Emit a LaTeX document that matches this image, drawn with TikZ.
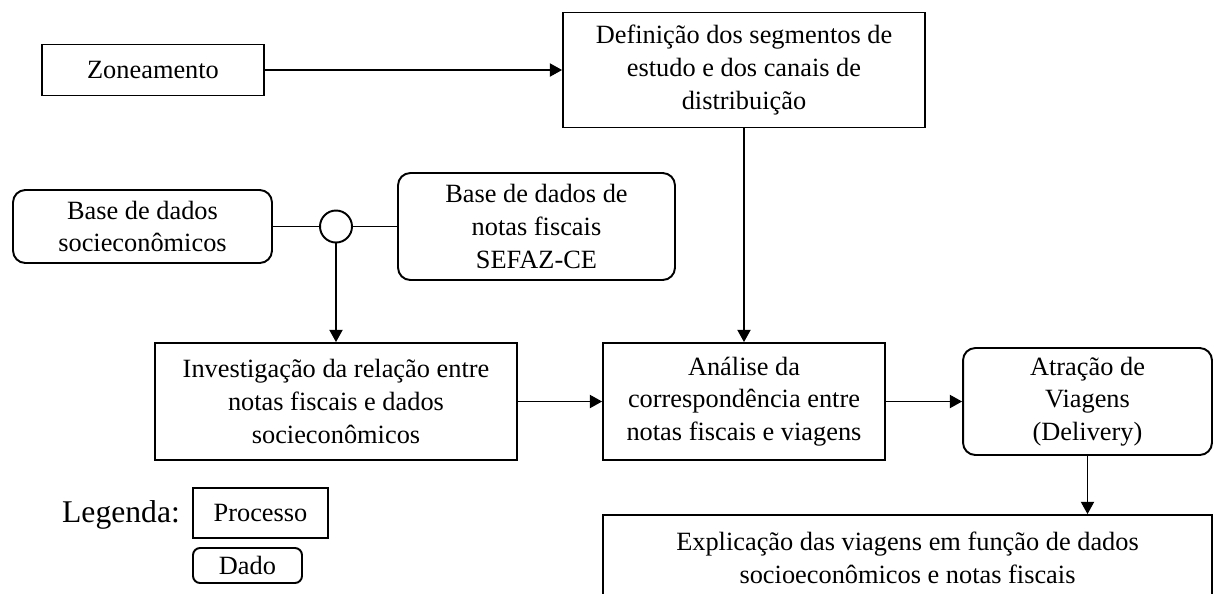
\documentclass[tikz,border=0pt]{standalone}
\usepackage{fontspec}
\setmainfont{Liberation Serif}
\usetikzlibrary{arrows.meta}
\begin{document}
\begin{tikzpicture}[x=0.02cm,y=-0.02cm,
  proc/.style={draw,line width=1.1pt,rectangle,align=center,inner sep=0pt,font=\fontsize{15}{18.6}\selectfont},
  dat/.style={proc,rounded corners=7pt},
  conn/.style={line width=0.6pt},
  arr/.style={conn,-{Triangle[length=7pt,width=7.6pt]}}]
\useasboundingbox (0,0) rectangle (1214,593);
\clip (0,0) rectangle (1214,593);
\node[proc,minimum width=4.44cm,minimum height=1.02cm] (zon) at (153,70) {Zoneamento};
\node[proc,minimum width=7.24cm,minimum height=2.3cm] (def) at (744,70) {Definição dos segmentos de\\estudo e dos canais de\\distribuição};
\node[dat,minimum width=5.18cm,minimum height=1.46cm] (soc) at (142.5,226.5) {Base de dados\\socieconômicos};
\node[dat,minimum width=5.54cm,minimum height=2.14cm] (sefaz) at (536.5,226.5) {Base de dados de\\notas fiscais\\SEFAZ-CE};
\node[draw,circle,line width=1.1pt,minimum size=0.64cm,inner sep=0pt] (circ) at (336,226.5) {};
\node[proc,minimum width=7.24cm,minimum height=2.34cm] (inv) at (336,401.5) {Investigação da relação entre\\notas fiscais e dados\\socieconômicos};
\node[proc,minimum width=5.64cm,minimum height=2.34cm] (ana) at (744,401.5) {Análise da\\correspondência entre\\notas fiscais e viagens};
\node[dat,minimum width=4.98cm,minimum height=2.14cm] (atr) at (1087.5,401.5) {Atração de\\Viagens\\(Delivery)};
\node[proc,minimum width=12.18cm,minimum height=1.7cm] (expl) at (907.5,557.5) {Explicação das viagens em função de dados\\socioeconômicos e notas fiscais};
\node[font=\fontsize{18}{22}\selectfont,inner sep=0pt] (leg) at (121,515) {Legenda:};
\node[proc,minimum width=2.7cm,minimum height=1.0cm] (lproc) at (260.5,513) {Processo};
\node[proc,rounded corners=4pt,minimum width=2.18cm,minimum height=0.7cm] (ldado) at (247.5,565.5) {Dado};
\draw[arr] (zon.east) -- (def.west);
\draw[conn] (soc.east) -- (circ.west);
\draw[conn] (circ.east) -- (sefaz.west);
\draw[arr] (circ.south) -- (circ.south |- inv.north);
\draw[arr] (def.south) -- (ana.north);
\draw[arr] (inv.east) -- (ana.west);
\draw[arr] (ana.east) -- (atr.west);
\draw[arr] (atr.south) -- (atr.south |- expl.north);
\end{tikzpicture}
\end{document}
